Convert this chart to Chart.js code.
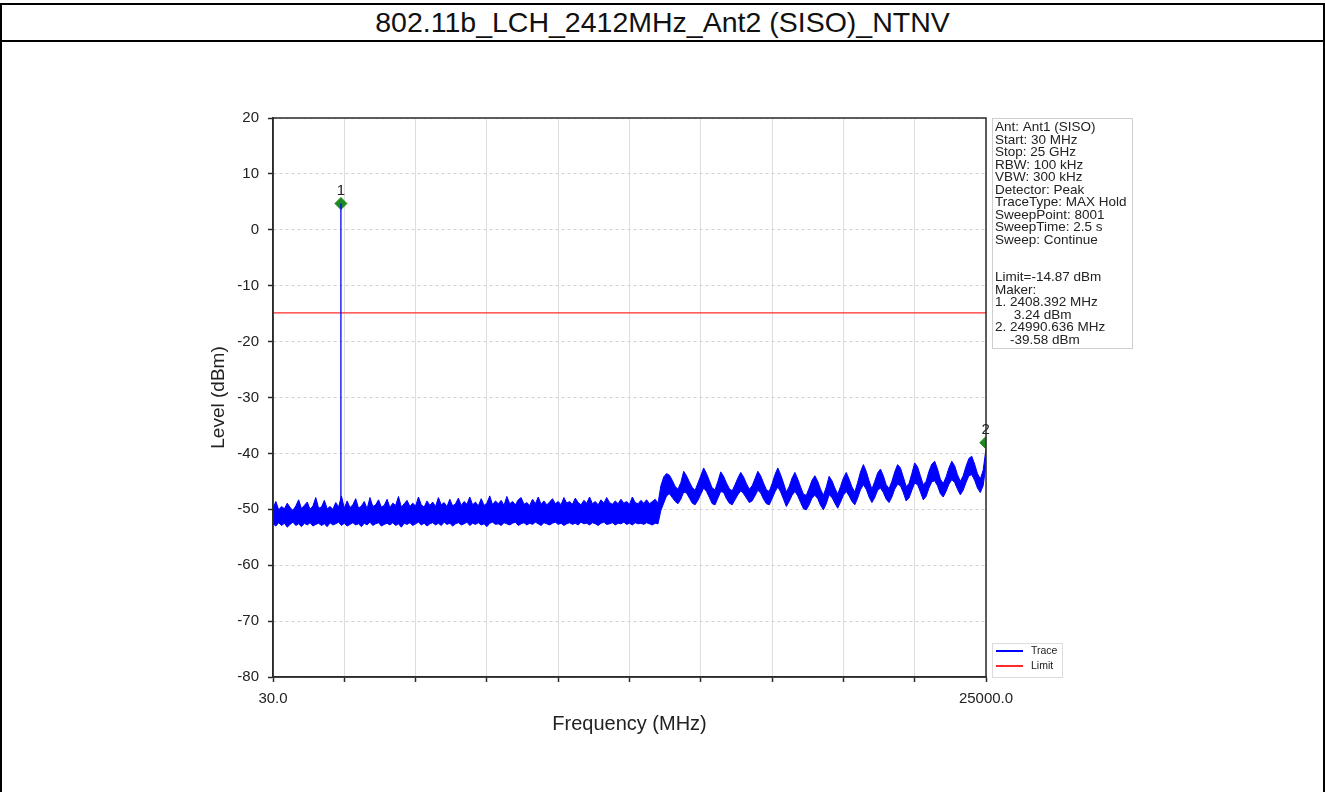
<!DOCTYPE html>
<html>
<head>
<meta charset="utf-8">
<script src="https://cdn.jsdelivr.net/npm/chart.js@4.4.1/dist/chart.umd.min.js"></script>
<style>
    body { margin: 0; background: #fff; font-family: "Liberation Sans", Arial, sans-serif; }
    #page { position: absolute; left: 0; top: 3px; width: 1321px; border-left: 2px solid #000; border-right: 2px solid #000; border-top: 2px solid #000; }
    #title { height: 35px; line-height: 35px; text-align: center; font-size: 28.5px; color: #111; border-bottom: 2px solid #000; }
    canvas { display: block; }
</style>
</head>
<body>
<div id="page">
    <div id="title">802.11b_LCH_2412MHz_Ant2 (SISO)_NTNV</div>
    <canvas id="myChart" width="1321" height="750"></canvas>
</div>
<script>
const startMHz = 30.0;
const stopMHz = 25000.0;
const limitDbm = -14.87;

// tick marks along the frequency axis, only the ends carry a label
const xTickValues = [30, 2527, 5024, 7521, 10018, 12515, 15012, 17509, 20006, 22503, 25000];
const xTickLabels = ['30.0', '', '', '', '', '', '', '', '', '', '25000.0'];
const yTickValues = [-80, -70, -60, -50, -40, -30, -20, -10, 0, 10, 20];

const traceHigh = [
    -49.8, -48.6, -50.1, -49.5, -49.9, -48.9, -49.7, -50.2, -49.4, -48.3,
    -49.9, -49.3, -48.7, -50.0, -49.4, -47.9, -49.8, -49.6, -48.4, -49.9,
    -49.5, -50.0, -48.8, -49.6, -47.6, -49.8, -48.5, -49.7, -49.2, -48.1,
    -49.8, -49.4, -48.6, -49.9, -47.9, -49.5, -49.2, -48.3, -49.6, -49.3,
    -48.2, -49.7, -48.9, -49.3, -47.7, -49.6, -49.0, -48.4, -49.5, -48.9,
    -49.4, -47.8, -49.2, -49.6, -48.5, -49.3, -48.7, -49.5, -47.9, -49.2,
    -48.8, -49.5, -48.2, -49.4, -49.0, -48.0, -49.3, -48.6, -49.1, -47.8,
    -49.2, -48.7, -49.4, -48.1, -49.3, -48.9, -47.6, -49.2, -48.5, -49.0,
    -48.4, -49.3, -47.7, -49.0, -48.6, -49.2, -48.3, -47.9, -49.1, -48.8,
    -49.3, -48.2, -49.0, -47.8, -49.1, -48.5, -49.2, -48.7, -48.1, -49.0,
    -48.6, -49.2, -47.9, -48.9, -48.6, -49.1, -48.0, -48.8, -49.2, -48.4,
    -48.9, -47.8, -49.0, -48.6, -49.2, -48.3, -48.9, -47.9, -48.8, -49.1,
    -48.5, -49.0, -48.2, -48.9, -48.6, -49.1, -47.8, -48.8, -49.0, -48.4,
    -48.9, -48.3, -49.0, -48.6, -48.2, -48.9,
    -45.8, -44.2, -43.6, -43.9, -44.8, -45.9, -46.4, -45.2, -43.2, -44.0,
    -45.1, -46.1, -46.6, -45.3, -44.0, -42.6, -43.6, -44.9, -46.2, -46.5,
    -45.0, -43.3, -44.1, -45.3, -46.3, -46.7, -45.6, -44.4, -43.4, -44.2,
    -45.4, -46.4, -45.8, -44.5, -43.2, -44.0, -45.3, -46.5, -46.8, -45.4,
    -43.8, -42.6, -43.8, -45.3, -46.9, -45.9, -44.4, -43.4, -44.6, -46.0,
    -47.3, -47.5, -46.2, -44.8, -44.0, -45.0, -46.4, -47.5, -46.0, -44.1,
    -44.9, -46.2, -47.3, -45.9, -44.4, -43.4, -44.6, -46.0, -46.9, -45.2,
    -43.3, -42.0, -43.2, -44.9, -46.4, -45.0, -43.5, -42.8, -44.0, -45.6,
    -46.3, -45.0, -43.3, -42.0, -42.6, -44.2, -45.9, -45.4, -43.6, -41.7,
    -42.4, -44.0, -45.6, -45.0, -43.2, -41.9, -41.4, -42.8, -44.6, -45.4,
    -44.2, -42.6, -41.4, -42.2, -43.8, -45.0, -44.0, -42.3, -40.9, -40.5,
    -41.9, -43.6, -44.6, -43.0, -39.2
];
const traceLow = [
    -52.6, -53.0, -52.4, -52.9, -52.5, -53.2, -52.7, -52.3, -52.9, -52.6,
    -53.1, -52.5, -52.8, -52.4, -53.0, -52.7, -52.5, -52.9, -52.6, -53.1,
    -52.4, -52.8, -52.6, -52.3, -52.9, -52.5, -53.0, -52.7, -52.4, -52.8,
    -52.6, -53.1, -52.5, -52.8, -52.3, -52.9, -52.6, -52.4, -53.0, -52.7,
    -52.5, -52.8, -52.4, -52.9, -52.6, -53.2, -52.5, -52.7, -52.4, -52.9,
    -52.6, -52.3, -52.8, -52.5, -53.0, -52.6, -52.4, -52.8, -52.5, -52.9,
    -52.3, -52.7, -52.5, -53.0, -52.6, -52.4, -52.8, -52.6, -52.3, -52.9,
    -52.5, -52.7, -52.4, -52.8, -52.6, -53.1, -52.5, -52.3, -52.7, -52.6,
    -52.9, -52.4, -52.6, -52.8, -52.5, -52.3, -52.9, -52.6, -52.4, -52.8,
    -52.5, -52.7, -52.3, -52.6, -52.9, -52.4, -52.6, -52.8, -52.5, -52.3,
    -52.7, -52.5, -52.9, -52.6, -52.4, -52.7, -52.5, -52.8, -52.3, -52.6,
    -52.5, -52.8, -52.4, -52.6, -52.9, -52.5, -52.3, -52.7, -52.6, -52.4,
    -52.8, -52.5, -52.6, -52.3, -52.7, -52.5, -52.8, -52.4, -52.6, -52.5,
    -52.7, -52.4, -52.6, -52.8, -52.5, -52.6,
    -50.2, -48.9, -47.6, -47.2, -47.9, -48.6, -49.0, -48.2, -46.9, -47.1,
    -48.0, -48.9, -49.2, -48.4, -47.3, -46.2, -46.8, -47.9, -49.0, -49.2,
    -48.0, -46.8, -47.0, -48.1, -48.9, -49.2, -48.3, -47.4, -46.7, -47.2,
    -48.0, -48.8, -48.5, -47.6, -46.6, -47.1, -48.2, -49.0, -49.2, -48.1,
    -46.9, -46.0, -46.9, -48.2, -49.5, -48.6, -47.5, -46.8, -47.6, -48.8,
    -49.9, -50.1, -49.2, -48.0, -47.5, -48.1, -49.3, -50.1, -49.0, -47.4,
    -47.9, -48.9, -49.8, -48.7, -47.5, -46.8, -47.6, -48.6, -49.2, -48.0,
    -46.5, -45.6, -46.4, -47.8, -48.8, -47.9, -46.6, -46.2, -47.0, -48.2,
    -48.8, -47.8, -46.4, -45.5, -45.8, -47.0, -48.5, -48.0, -46.6, -45.3,
    -45.6, -46.9, -48.3, -47.7, -46.2, -45.1, -44.9, -45.8, -47.2, -47.8,
    -46.8, -45.5, -44.7, -45.2, -46.4, -47.4, -46.6, -45.2, -44.0, -43.8,
    -44.8, -46.2, -47.0, -45.8, -42.0
];

// carrier spike at the LCH channel
const spikeFreqs = [2408.392, 2408.392];
const spikeLevels = [-50.5, 4.7];

// peak markers as drawn (diamonds) and their numbers
const markerFreqs = [2408.392, 24990.636];
const markerLevels = [4.7, -38.1];
const markerNames = ['1', '2'];

const infoLines = [
    'Ant: Ant1 (SISO)', 'Start: 30 MHz', 'Stop: 25 GHz', 'RBW: 100 kHz', 'VBW: 300 kHz',
    'Detector: Peak', 'TraceType: MAX Hold', 'SweepPoint: 8001', 'SweepTime: 2.5 s', 'Sweep: Continue',
    '', '', 'Limit=-14.87 dBm', 'Maker:', '1. 2408.392 MHz', '     3.24 dBm', '2. 24990.636 MHz', '    -39.58 dBm'
];

const FONT = '"Liberation Sans", Arial, sans-serif';

const sweepStep = (stopMHz - startMHz) / (traceHigh.length - 1);
const toPoints = (levels) => levels.map((v, i) => ({ x: startMHz + i * sweepStep, y: v }));
const pairs = (xs, ys) => xs.map((v, i) => ({ x: v, y: ys[i] }));

// frame, marker numbers, info box and legend
const extrasPlugin = {
    id: 'extras',
    afterDatasetsDraw(chart) {
        const { ctx, chartArea: a, scales: { x, y } } = chart;
        ctx.save();
        ctx.strokeStyle = '#2b2b2b';
        ctx.lineWidth = 1.5;
        ctx.strokeRect(a.left, a.top, a.right - a.left, a.bottom - a.top);
        ctx.fillStyle = '#222';
        ctx.font = '15px ' + FONT;
        ctx.textAlign = 'center';
        ctx.textBaseline = 'bottom';
        markerFreqs.forEach((f, i) => {
            ctx.fillText(markerNames[i], x.getPixelForValue(f), y.getPixelForValue(markerLevels[i]) - 5);
        });
        ctx.restore();
    },
    afterDraw(chart) {
        const { ctx, chartArea: a } = chart;
        ctx.save();
        // info box
        const bx = a.right + 6, by = a.top, bw = 140, bh = 230, lh = 12.5;
        ctx.fillStyle = '#fff';
        ctx.fillRect(bx, by, bw, bh);
        ctx.strokeStyle = '#cfcfcf';
        ctx.lineWidth = 1;
        ctx.strokeRect(bx + 0.5, by + 0.5, bw, bh);
        ctx.fillStyle = '#222';
        ctx.font = '13.5px ' + FONT;
        ctx.textAlign = 'left';
        ctx.textBaseline = 'middle';
        infoLines.forEach((t, i) => ctx.fillText(t, bx + 3, by + 9.5 + i * lh));

        // legend
        const items = chart.data.datasets.filter(d => d.inLegend);
        const lx = a.right + 6, lw = 70, lhh = 34, ly = a.bottom - lhh;
        ctx.fillStyle = '#fff';
        ctx.fillRect(lx, ly, lw, lhh);
        ctx.strokeStyle = '#dcdcdc';
        ctx.strokeRect(lx + 0.5, ly + 0.5, lw, lhh);
        ctx.font = '10.5px ' + FONT;
        items.forEach((d, i) => {
            const yy = ly + 8 + i * 15;
            ctx.strokeStyle = d.borderColor;
            ctx.lineWidth = 2;
            ctx.beginPath();
            ctx.moveTo(lx + 4, yy);
            ctx.lineTo(lx + 31, yy);
            ctx.stroke();
            ctx.fillStyle = '#222';
            ctx.fillText(d.label, lx + 39, yy);
        });
        ctx.restore();
    }
};

const ctx = document.getElementById('myChart');
const myChart = new Chart(ctx, {
    type: 'scatter',
    data: {
        datasets: [
            {
                label: 'Trace',
                inLegend: true,
                data: toPoints(traceHigh),
                showLine: true,
                borderColor: '#0000ff',
                backgroundColor: '#0000ff',
                borderWidth: 1,
                pointRadius: 0,
                fill: false,
            },
            {
                label: 'Trace low',
                data: toPoints(traceLow),
                showLine: true,
                borderColor: '#0000ff',
                backgroundColor: '#0000ff',
                borderWidth: 1,
                pointRadius: 0,
                fill: '-1',
            },
            {
                label: 'Spike',
                data: pairs(spikeFreqs, spikeLevels),
                showLine: true,
                borderColor: '#0000ff',
                borderWidth: 1.3,
                pointRadius: 0,
            },
            {
                label: 'Limit',
                inLegend: true,
                data: pairs([startMHz, stopMHz], [limitDbm, limitDbm]),
                showLine: true,
                borderColor: '#ff2a2a',
                borderWidth: 1.2,
                pointRadius: 0,
            },
            {
                label: 'Markers',
                data: pairs(markerFreqs, markerLevels),
                showLine: false,
                pointStyle: 'rectRot',
                pointRadius: 6,
                backgroundColor: '#1f8a1f',
                borderColor: '#1f8a1f',
            },
        ]
    },
    options: {
        responsive: false,
        animation: false,
        layout: { padding: { left: 201, right: 337, top: 76, bottom: 52 } },
        plugins: {
            legend: { display: false },
            tooltip: { enabled: false },
        },
        scales: {
            x: {
                type: 'linear',
                min: startMHz,
                max: stopMHz,
                afterBuildTicks: (scale) => { scale.ticks = xTickValues.map(v => ({ value: v })); },
                afterFit: (scale) => { scale.height = 63; },
                ticks: {
                    autoSkip: false,
                    maxRotation: 0,
                    padding: 8,
                    color: '#222',
                    font: { family: FONT, size: 15 },
                    callback: (value, index) => xTickLabels[index],
                },
                grid: { color: '#dedede', lineWidth: 1, tickLength: 5, tickColor: '#2b2b2b', tickWidth: 1.5 },
                border: { color: '#2b2b2b', width: 1.5 },
                title: { display: true, text: 'Frequency (MHz)', color: '#222', font: { family: FONT, size: 20 }, padding: { top: 4, bottom: 4 } },
            },
            y: {
                min: -80,
                max: 20,
                afterBuildTicks: (scale) => { scale.ticks = yTickValues.map(v => ({ value: v })); },
                afterFit: (scale) => { scale.width = 70; },
                ticks: { padding: 9, color: '#222', font: { family: FONT, size: 15 } },
                grid: { color: '#cfcfcf', lineWidth: 1, tickLength: 5, tickColor: '#2b2b2b', tickWidth: 1.5 },
                border: { color: '#2b2b2b', width: 1.5, dash: [3, 3] },
                title: { display: true, text: 'Level (dBm)', color: '#222', font: { family: FONT, size: 19 }, padding: { top: 4, bottom: 4 } },
            }
        }
    },
    plugins: [extrasPlugin]
});
</script>
</body>
</html>
